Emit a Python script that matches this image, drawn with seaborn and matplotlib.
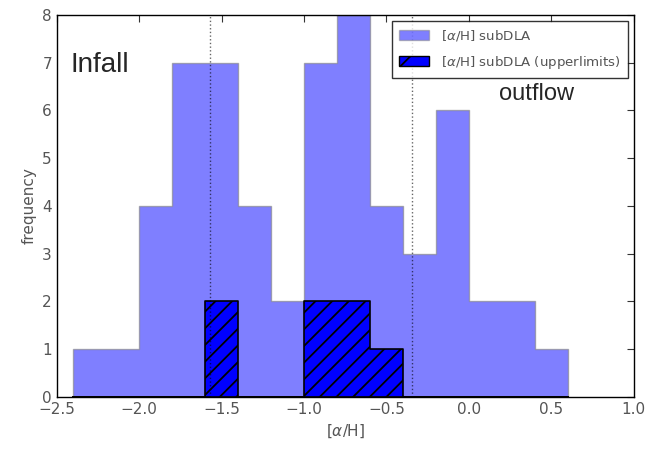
import numpy as np
import pandas as pd
import seaborn as sns
import matplotlib
matplotlib.use("Agg")
import matplotlib.pyplot as plt
from matplotlib.patches import Patch

# Data
bin_edges = [-2.4, -2.2, -2.0, -1.8, -1.6, -1.4, -1.2, -1.0, -0.8, -0.6, -0.4, -0.2, 0.0, 0.2, 0.4, 0.6]
subdla_counts = [1, 1, 4, 7, 7, 4, 2, 7, 8, 4, 3, 6, 2, 2, 1]
upper_counts = [0, 0, 0, 0, 2, 0, 0, 2, 2, 1, 0, 0, 0, 0, 0]
vlines_x = [-1.57, -0.345]
xticks = [-2.5, -2.0, -1.5, -1.0, -0.5, 0.0, 0.5, 1.0]
xtick_labels = ["\u22122.5", "\u22122.0", "\u22121.5", "\u22121.0", "\u22120.5", "0.0", "0.5", "1.0"]
yticks = [0, 1, 2, 3, 4, 5, 6, 7, 8]

centers = [(a + b) / 2 for a, b in zip(bin_edges[:-1], bin_edges[1:])]
df = pd.DataFrame({"x": centers, "n": subdla_counts, "u": upper_counts})

sns.set_style("white")
plt.rcParams["font.family"] = ["DejaVu Sans"]
plt.rcParams["hatch.linewidth"] = 1.3

fig = plt.figure(figsize=(6.46, 4.49), dpi=100)
ax = fig.add_axes([0.088, 0.116, 0.893, 0.851])

sns.histplot(data=df, x="x", weights="n", bins=bin_edges, element="step", fill=True,
             color="#0000ff", alpha=0.5, linewidth=1.0, edgecolor=(0.5, 0.5, 0.5, 0.6), ax=ax)
sns.histplot(data=df, x="x", weights="u", bins=bin_edges, element="step", fill=True,
             color="#0000ff", alpha=1.0, linewidth=1.2, edgecolor="black", ax=ax)
polys = [c for c in ax.collections]
polys[-1].set_hatch("//")
polys[-1].set_edgecolor("black")
polys[-1].set_facecolor("#0000ff")

for xv in vlines_x:
    ax.axvline(xv, color="k", linestyle=":", linewidth=1.0, alpha=0.6)

ax.set_xlim(-2.5, 1.0)
ax.set_ylim(0, 8)
ax.set_xticks(xticks)
ax.set_xticklabels(xtick_labels)
ax.set_yticks(yticks)
ax.tick_params(direction="in", top=True, right=True, length=5, width=0.8, labelsize=11,
               colors="#333333", labelcolor="#555555")
for s in ax.spines.values():
    s.set_visible(True)
    s.set_color("black")
    s.set_linewidth(1.0)

ax.set_xlabel("[$\\alpha$/H]", fontsize=11, color="#555555")
ax.set_ylabel("frequency", fontsize=11, color="#555555")

ax.text(-2.42, 6.95, "Infall", fontsize=20, family="Liberation Sans", va="center", ha="left")
ax.text(0.18, 6.35, "outflow", fontsize=17, family="Liberation Sans", va="center", ha="left")

handles = [Patch(facecolor="#0000ff", alpha=0.5, edgecolor=(0.5, 0.5, 0.5)),
           Patch(facecolor="#0000ff", edgecolor="black", hatch="/")]
labels = ["[$\\alpha$/H] subDLA", "[$\\alpha$/H] subDLA (upperlimits)"]
leg = ax.legend(handles, labels, loc="upper right", fontsize=9.6, frameon=True, fancybox=False,
                edgecolor="black", borderaxespad=0.45, handlelength=2.2, handletextpad=0.9,
                labelspacing=0.8, borderpad=0.55)
leg.get_frame().set_linewidth(1.0)
for t in leg.get_texts():
    t.set_color("#555555")

fig.savefig("out.png", dpi=100)
